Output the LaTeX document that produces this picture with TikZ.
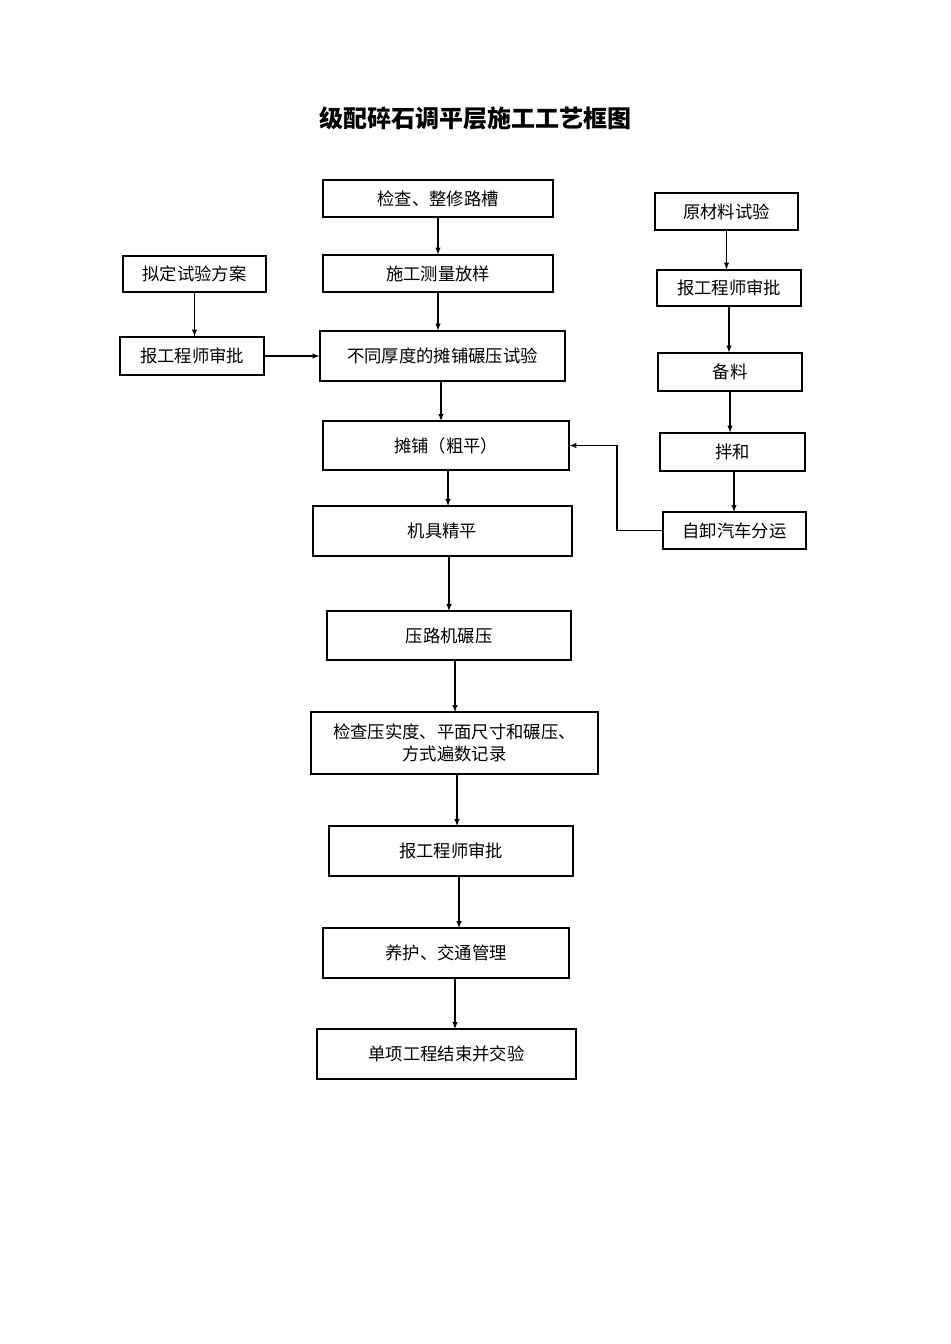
\documentclass[tikz,border=0pt]{standalone}
\usepackage{fontspec}
\setmainfont{Noto Sans CJK SC}
\tikzset{
  box/.style={draw, thick, inner sep=0pt, font=\fontsize{13}{16}\selectfont, align=center},
  flow/.style={thick, -latex},
}
\begin{document}
\begin{tikzpicture}[x=0.75pt, y=-0.75pt]
  \useasboundingbox (0,0) rectangle (950,1344);

  % Title
  \node[font=\fontsize{18}{22}\selectfont\bfseries] (title) at (475,118) {级配碎石调平层施工工艺框图};

  % Main column
  \node[box, minimum width=230*0.75pt, minimum height=37*0.75pt] (check) at (438,198.5) {检查、整修路槽};
  \node[box, minimum width=230*0.75pt, minimum height=37*0.75pt] (survey) at (438,273.5) {施工测量放样};
  \node[box, minimum width=245*0.75pt, minimum height=50*0.75pt] (trial) at (442.5,356) {不同厚度的摊铺碾压试验};
  \node[box, minimum width=246*0.75pt, minimum height=49*0.75pt] (spread) at (446,445.5) {摊铺（粗平）};
  \node[box, minimum width=259*0.75pt, minimum height=50*0.75pt] (level) at (442.5,531) {机具精平};
  \node[box, minimum width=244*0.75pt, minimum height=49*0.75pt] (roll) at (449,635.5) {压路机碾压};
  \node[box, minimum width=287*0.75pt, minimum height=62*0.75pt] (inspect) at (454.5,743) {检查压实度、平面尺寸和碾压、\\方式遍数记录};
  \node[box, minimum width=244*0.75pt, minimum height=50*0.75pt] (approve) at (451,851) {报工程师审批};
  \node[box, minimum width=246*0.75pt, minimum height=50*0.75pt] (cure) at (446,953) {养护、交通管理};
  \node[box, minimum width=259*0.75pt, minimum height=50*0.75pt] (finish) at (446.5,1054) {单项工程结束并交验};

  % Left column
  \node[box, minimum width=143*0.75pt, minimum height=36*0.75pt] (plan) at (194.5,274) {拟定试验方案};
  \node[box, minimum width=144*0.75pt, minimum height=38*0.75pt] (approveL) at (192,356) {报工程师审批};

  % Right column
  \node[box, minimum width=143*0.75pt, minimum height=37*0.75pt] (material) at (726.5,211.5) {原材料试验};
  \node[box, minimum width=144*0.75pt, minimum height=36*0.75pt] (approveR) at (729,288) {报工程师审批};
  \node[box, minimum width=144*0.75pt, minimum height=38*0.75pt] (prepare) at (730,372) {备料};
  \node[box, minimum width=145*0.75pt, minimum height=38*0.75pt] (mix) at (732.5,452) {拌和};
  \node[box, minimum width=143*0.75pt, minimum height=37*0.75pt] (truck) at (734.5,530.5) {自卸汽车分运};

  % Arrows
  \draw[flow] (check.south) -- (check.south |- survey.north);
  \draw[flow] (survey.south) -- (survey.south |- trial.north);
  \draw[flow] (441,381) -- (441,421);
  \draw[flow] (448,470) -- (448,506);
  \draw[flow] (449,556) -- (449,611);
  \draw[flow] (455,660) -- (455,712);
  \draw[flow] (457,774) -- (457,826);
  \draw[flow] (459,876) -- (459,928);
  \draw[flow] (455,978) -- (455,1029);

  \draw[flow] (plan.south) -- (plan.south |- approveL.north);
  \draw[flow] (approveL.east) -- (trial.west |- approveL.east);

  \draw[flow] (material.south) -- (material.south |- approveR.north);
  \draw[flow] (approveR.south) -- (approveR.south |- prepare.north);
  \draw[flow] (prepare.south) -- (prepare.south |- mix.north);
  \draw[flow] (734,471) -- (734,512);
  \coordinate (bend) at (617,530.5);
  \draw[flow] (truck.west) -- (bend) |- (spread.east);
\end{tikzpicture}
\end{document}
